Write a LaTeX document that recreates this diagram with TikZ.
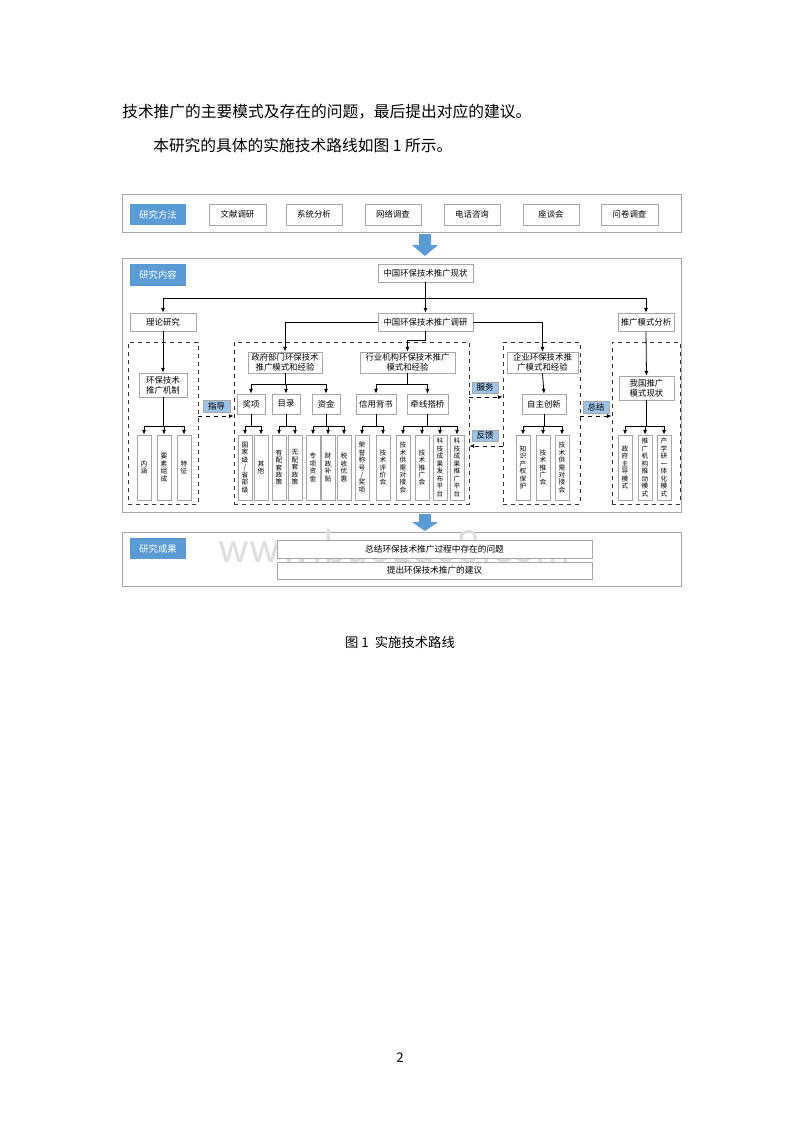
\documentclass[tikz,border=0pt]{standalone}
\usepackage{fontspec}
\setmainfont{Noto Sans CJK SC}
\usetikzlibrary{arrows.meta,calc}
\definecolor{gb}{HTML}{A6A6A6}
\definecolor{bl}{HTML}{5B9BD5}
\definecolor{lb}{HTML}{9DC3E6}
\tikzset{
 box/.style={draw=gb,line width=0.6pt,inner sep=0pt,align=center,font=\fontsize{6.3}{7.4}\selectfont,fill=white},
 leaf/.style={box,font=\fontsize{5}{5.6}\selectfont},
 ttl/.style={fill=bl,inner sep=0pt,text=white,font=\fontsize{7}{8}\selectfont},
 tag/.style={fill=lb,inner sep=0pt,font=\fontsize{6.3}{7}\selectfont},
 dbox/.style={draw=black!80,dashed,line width=0.6pt,inner sep=0pt},
 frame/.style={draw=gb,line width=0.7pt,inner sep=0pt},
 arr/.style={line width=0.6pt,-{Latex[length=3.5pt,width=3pt]}},
 darr/.style={line width=0.6pt,dashed,-{Latex[length=3.5pt,width=3pt]}},
}
\newcommand\bx[7][]{\node[box,#1,minimum width={(#5-#3)*0.75pt},minimum height={(#6-#4)*0.75pt}] (#2) at ({(#3+#5)/2},{(#4+#6)/2}) {#7};}
\begin{document}
\begin{tikzpicture}[x=0.75pt,y=-0.75pt]
\useasboundingbox (0,0) rectangle (800,1133);
% body text
\node[anchor=west,inner sep=0pt,font=\fontsize{11.8}{14}\selectfont] (t1) at (122,112) {技术推广的主要模式及存在的问题，最后提出对应的建议。};
\node[anchor=west,inner sep=0pt,font=\fontsize{11.8}{14}\selectfont] (t2) at (153,145) {本研究的具体的实施技术路线如图 1 所示。};
% frames
\bx[frame,fill=none]{f1}{122}{194}{681}{232}{}
\bx[frame,fill=none]{f2}{122}{258}{681}{512}{}
\bx[frame,fill=none]{f3}{122}{532}{681}{586}{}
% watermark
\node[text=black!13,font=\fontsize{36}{40}\selectfont\sffamily] (wm) at (395,551) {www.baogao8.com};
% blue arrows
\fill[bl] (419,234) rectangle (431,245) (412,245) -- (438,245) -- (425,256) -- cycle;
\fill[bl] (419,514) rectangle (431,522) (412,522) -- (438,522) -- (425,531) -- cycle;
% row 1
\bx[ttl,draw=none]{m0}{130}{204}{186}{225}{研究方法}
\bx{m1}{209}{204}{266}{225}{文献调研}
\bx{m2}{286}{204}{342}{225}{系统分析}
\bx{m3}{365}{204}{421}{225}{网络调查}
\bx{m4}{444}{204}{500}{225}{电话咨询}
\bx{m5}{523}{204}{579}{225}{座谈会}
\bx{m6}{601}{204}{658}{225}{问卷调查}
% row 2
\bx[ttl,draw=none]{c0}{130}{264}{186}{286}{研究内容}
\bx[ttl,draw=none]{r0}{130}{538}{186}{559}{研究成果}
% dashed boxes
\bx[dbox,fill=none]{d1}{128}{342}{198}{504}{}
\bx[dbox,fill=none]{d2}{234}{342}{469}{504}{}
\bx[dbox,fill=none]{d3}{503}{342}{580}{504}{}
\bx[dbox,fill=none]{d4}{612}{342}{680}{504}{}
\bx{xz}{378}{264}{473}{282}{中国环保技术推广现状}
\bx{ll}{130}{313}{196}{331}{理论研究}
\bx{dy}{378}{313}{473}{331}{中国环保技术推广调研}
\bx{fx}{618}{313}{674}{331}{推广模式分析}
\bx{jz}{139}{373}{187}{397}{环保技术\\推广机制}
\bx{zf}{248}{352}{322}{373}{政府部门环保技术\\推广模式和经验}
\bx{hy}{360}{352}{455}{373}{行业机构环保技术推广\\模式和经验}
\bx{qy}{507}{352}{578}{373}{企业环保技术推\\广模式和经验}
\bx{xk}{619}{376}{674}{400}{我国推广\\模式现状}
\bx{jx}{237}{394}{265}{414}{奖项}
\bx{ml}{272}{394}{300}{414}{目录}
\bx{zj}{312}{394}{340}{414}{资金}
\bx{xy}{356}{394}{396}{414}{信用背书}
\bx{qx}{407}{394}{448}{414}{牵线搭桥}
\bx{zz}{522}{394}{566}{414}{自主创新}
% leaves
\bx[leaf]{a1}{137}{435}{151}{500}{内\\涵}
\bx[leaf]{a2}{157}{435}{171}{500}{要\\素\\组\\成}
\bx[leaf]{a3}{177}{435}{191}{500}{特\\征}
\bx[leaf]{b1}{238}{435}{252}{500}{国\\家\\级\\/\\省\\部\\级}
\bx[leaf]{b2}{254}{435}{268}{500}{其\\他}
\bx[leaf]{b3}{272}{435}{286}{500}{有\\配\\套\\政\\策}
\bx[leaf]{b4}{288}{435}{302}{500}{无\\配\\套\\政\\策}
\bx[leaf]{b5}{306}{435}{320}{500}{专\\项\\资\\金}
\bx[leaf]{b6}{321}{435}{335}{500}{财\\政\\补\\贴}
\bx[leaf]{b7}{337}{435}{351}{500}{税\\收\\优\\惠}
\bx[leaf]{b8}{355}{435}{369}{500}{荣\\誉\\称\\号\\/\\奖\\项}
\bx[leaf]{b9}{376}{435}{390}{500}{技\\术\\评\\价\\会}
\bx[leaf]{b10}{396}{435}{410}{500}{技\\术\\供\\需\\对\\接\\会}
\bx[leaf]{b11}{415}{435}{429}{500}{技\\术\\推\\广\\会}
\bx[leaf]{b12}{433}{435}{447}{500}{科\\技\\成\\果\\发\\布\\平\\台}
\bx[leaf]{b13}{450}{435}{464}{500}{科\\技\\成\\果\\推\\广\\平\\台}
\bx[leaf]{e1}{516}{435}{530}{500}{知\\识\\产\\权\\保\\护}
\bx[leaf]{e2}{536}{435}{550}{500}{技\\术\\推\\广\\会}
\bx[leaf]{e3}{555}{435}{569}{500}{技\\术\\供\\需\\对\\接\\会}
\bx[leaf]{g1}{618}{435}{632}{500}{政\\府\\主\\导\\模\\式}
\bx[leaf]{g2}{638}{435}{652}{500}{推\\广\\机\\构\\推\\动\\模\\式}
\bx[leaf]{g3}{657}{435}{671}{500}{产\\学\\研\\一\\体\\化\\模\\式}
% results
\bx[font=\fontsize{6.5}{7.6}\selectfont]{s1}{277}{540}{592}{558}{总结环保技术推广过程中存在的问题}
\bx[font=\fontsize{6.5}{7.6}\selectfont]{s2}{277}{562}{592}{579}{提出环保技术推广的建议}
% tags
\bx[tag]{tg1}{203}{400}{230}{412}{指导}
\bx[tag]{tg2}{472}{382}{498}{393}{服务}
\bx[tag]{tg3}{472}{430}{498}{441}{反馈}
\bx[tag]{tg4}{583}{401}{609}{413}{总结}
% connectors
\coordinate (y1) at (0,298);
\coordinate (y2) at (0,340);
\coordinate (y3) at (0,426);
\coordinate (y4) at (0,384);
\draw[line width=0.6pt] (xz.south) -- (xz.south |- y1);
\draw[arr] (xz.south |- y1) -| (ll.north);
\draw[arr] (xz.south |- y1) -| (fx.north);
\draw[arr] (xz.south |- y1) -- (dy.north);
\draw[arr] (dy.west) -| (zf.north);
\draw[arr] (dy.east) -| (qy.north);
\draw[arr] (dy.south) -- (dy.south |- y2) -| (hy.north);
\draw[arr] (ll.south) -- (jz.north);
\draw[arr] (fx.south) -- (xk.north);
\draw[arr] (qy.south) -- (zz.north);
\draw[line width=0.6pt] (zf.south) -- (zf.south |- y4);
\draw[arr] (zf.south |- y4) -| (jx.north);
\draw[arr] (zf.south |- y4) -| (zj.north);
\draw[arr] (zf.south |- y4) -| (ml.north);
\draw[line width=0.6pt] (hy.south) -- (hy.south |- y4);
\draw[arr] (hy.south |- y4) -| (xy.north);
\draw[arr] (hy.south |- y4) -| (qx.north);
\foreach \p/\cs in {jz/{a1,a2,a3},jx/{b1,b2},ml/{b3,b4},zj/{b5,b6,b7},xy/{b8,b9},qx/{b10,b11,b12,b13},zz/{e1,e2,e3},xk/{g1,g2,g3}}{
  \draw[line width=0.6pt] (\p.south) -- (\p.south |- y3);
  \foreach \c in \cs { \draw[arr] (\p.south |- y3) -| (\c.north); }
}
\draw[darr] (d1.east |- 0,416) -- (d2.west |- 0,416);
\draw[darr] (d2.east |- 0,397) -- (d3.west |- 0,397);
\draw[darr] (d3.west |- 0,446) -- (d2.east |- 0,446);
\draw[darr] (d3.east |- 0,416) -- (d4.west |- 0,416);
% caption
\node[font=\fontsize{10}{12}\selectfont] (cap) at (400,642) {图 1\ \ 实施技术路线};
\node[font=\fontsize{10}{12}\selectfont] (pg) at (400,1058) {2};
\end{tikzpicture}
\end{document}
